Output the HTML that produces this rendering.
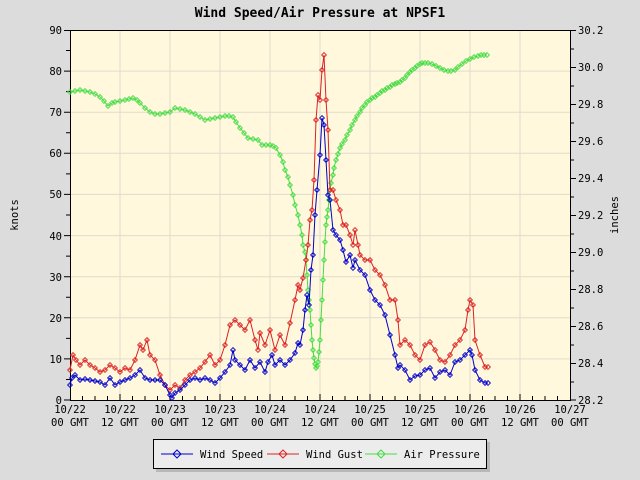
<!DOCTYPE html>
<html><head><style>body{margin:0;background:#dcdcdc}svg{display:block}text{font-family:"DejaVu Sans Mono","Liberation Mono",monospace;font-size:10.5px;fill:#000}</style></head><body>
<svg width="640" height="480" xmlns="http://www.w3.org/2000/svg">
<defs>
<marker id="mb" markerWidth="6" markerHeight="6" refX="3" refY="3" markerUnits="userSpaceOnUse"><path d="M3 0.6L5.4 3L3 5.4L0.6 3Z" fill="none" stroke="#0000cc" stroke-width="0.9"/></marker>
<marker id="mr" markerWidth="6" markerHeight="6" refX="3" refY="3" markerUnits="userSpaceOnUse"><path d="M3 0.6L5.4 3L3 5.4L0.6 3Z" fill="none" stroke="#dd2222" stroke-width="0.9"/></marker>
<marker id="mg" markerWidth="6" markerHeight="6" refX="3" refY="3" markerUnits="userSpaceOnUse"><path d="M3 0.6L5.4 3L3 5.4L0.6 3Z" fill="none" stroke="#44dd44" stroke-width="0.9"/></marker>
</defs>
<rect x="0" y="0" width="640" height="480" fill="#dcdcdc"/>
<rect x="70" y="30" width="500" height="370" fill="#fff8dc"/>
<g stroke="#e0dccc" stroke-width="1">
<line x1="120" y1="30" x2="120" y2="400"/><line x1="170" y1="30" x2="170" y2="400"/><line x1="220" y1="30" x2="220" y2="400"/><line x1="270" y1="30" x2="270" y2="400"/><line x1="320" y1="30" x2="320" y2="400"/><line x1="370" y1="30" x2="370" y2="400"/><line x1="420" y1="30" x2="420" y2="400"/><line x1="470" y1="30" x2="470" y2="400"/><line x1="520" y1="30" x2="520" y2="400"/>
<line x1="70" y1="71.1" x2="570" y2="71.1"/><line x1="70" y1="112.2" x2="570" y2="112.2"/><line x1="70" y1="153.3" x2="570" y2="153.3"/><line x1="70" y1="194.4" x2="570" y2="194.4"/><line x1="70" y1="235.6" x2="570" y2="235.6"/><line x1="70" y1="276.7" x2="570" y2="276.7"/><line x1="70" y1="317.8" x2="570" y2="317.8"/><line x1="70" y1="358.9" x2="570" y2="358.9"/>
</g>
<rect x="70.5" y="30.5" width="500" height="370" fill="none" stroke="#000"/>
<g stroke="#000">
<path d="M64 30.5h6M64 71.1h6M64 112.2h6M64 153.3h6M64 194.4h6M64 235.6h6M64 276.7h6M64 317.8h6M64 358.9h6M64 400h6"/>
<path d="M66 50.5h4M66 91.6h4M66 132.7h4M66 173.9h4M66 215h4M66 256.1h4M66 297.2h4M66 338.4h4M66 379.5h4"/>
<path d="M570 30.5h6M570 67.5h6M570 104.5h6M570 141.5h6M570 178.5h6M570 215.5h6M570 252.5h6M570 289.5h6M570 326.5h6M570 363.5h6M570 400h6"/>
<path d="M570 49h4M570 86h4M570 123h4M570 160h4M570 197h4M570 234h4M570 271h4M570 308h4M570 345h4M570 382h4"/>
</g>
<text x="320" y="17" text-anchor="middle" style="font-size:13px;font-weight:bold">Wind Speed/Air Pressure at NPSF1</text>
<g text-anchor="end">
<text x="62" y="34">90</text><text x="62" y="75">80</text><text x="62" y="116">70</text><text x="62" y="157">60</text><text x="62" y="198">50</text><text x="62" y="240">40</text><text x="62" y="281">30</text><text x="62" y="322">20</text><text x="62" y="363">10</text><text x="62" y="404">0</text>
</g>
<g>
<text x="578" y="34">30.2</text><text x="578" y="71">30.0</text><text x="578" y="108">29.8</text><text x="578" y="145">29.6</text><text x="578" y="182">29.4</text><text x="578" y="219">29.2</text><text x="578" y="256">29.0</text><text x="578" y="293">28.8</text><text x="578" y="330">28.6</text><text x="578" y="367">28.4</text><text x="578" y="404">28.2</text>
</g>
<g text-anchor="middle">
<text x="70" y="413">10/22</text><text x="70" y="426">00 GMT</text>
<text x="120" y="413">10/22</text><text x="120" y="426">12 GMT</text>
<text x="170" y="413">10/23</text><text x="170" y="426">00 GMT</text>
<text x="220" y="413">10/23</text><text x="220" y="426">12 GMT</text>
<text x="270" y="413">10/24</text><text x="270" y="426">00 GMT</text>
<text x="320" y="413">10/24</text><text x="320" y="426">12 GMT</text>
<text x="370" y="413">10/25</text><text x="370" y="426">00 GMT</text>
<text x="420" y="413">10/25</text><text x="420" y="426">12 GMT</text>
<text x="470" y="413">10/26</text><text x="470" y="426">00 GMT</text>
<text x="520" y="413">10/26</text><text x="520" y="426">12 GMT</text>
<text x="570" y="413">10/27</text><text x="570" y="426">00 GMT</text>
</g>
<text transform="translate(18,215) rotate(-90)" text-anchor="middle">knots</text>
<text transform="translate(618,215) rotate(-90)" text-anchor="middle">inches</text>
<path stroke="#000" d="M82.5 400v-4M95 400v-4M107.5 400v-4M132.5 400v-4M145 400v-4M157.5 400v-4M182.5 400v-4M195 400v-4M207.5 400v-4M232.5 400v-4M245 400v-4M257.5 400v-4M282.5 400v-4M295 400v-4M307.5 400v-4M332.5 400v-4M345 400v-4M357.5 400v-4M382.5 400v-4M395 400v-4M407.5 400v-4M432.5 400v-4M445 400v-4M457.5 400v-4M482.5 400v-4M495 400v-4M507.5 400v-4M532.5 400v-4M545 400v-4M557.5 400v-4M120 400v-6M170 400v-6M220 400v-6M270 400v-6M320 400v-6M370 400v-6M420 400v-6M470 400v-6M520 400v-6"/>
<polyline fill="none" stroke="#44dd44" marker-start="url(#mg)" marker-mid="url(#mg)" marker-end="url(#mg)" points="70,92 75,91 80,90 85,91 90,92 95,94 100,97 104,101 108,106 112,103 115,102 120,101 125,100 129,99 133,98 137,100 140,103 145,108 150,112 155,114 160,114 165,113 170,112 175,108 180,109 185,110 190,112 195,114 200,117 205,120 210,119 215,118 220,117 225,116 229,116 233,117 236,122 240,128 244,133 248,138 253,139 258,140 262,145 266,145 270,145 273,146 276,148 280,155 283,162 285,170 288,177 290,185 293,195 295,205 298,215 300,225 302,235 303,245 305,252 306,260 307,275 308,290 309,300 310,310 311,325 312,340 313,350 314,358 315,364 316,368 317,366 318,362 319,352 320,340 321,320 322,300 323,280 324,260 325,242 326,225 327,217 328,210 329,200 330,190 331,183 333,175 334,168 336,160 338,154 340,148 342,144 345,140 347,135 350,130 352,125 355,120 357,116 360,112 362,108 365,105 367,102 370,100 372,98 375,97 377,95 380,93 382,91 385,90 387,88 390,87 392,85 395,84 397,83 400,82 402,80 405,78 407,75 410,72 412,70 415,68 417,66 420,64 422,63 425,63 428,63 432,64 436,66 440,68 444,70 448,71 451,71 455,70 458,67 462,64 466,61 470,59 474,57 478,56 481,55 484,55 487,55"/>
<polyline fill="none" stroke="#dd2222" marker-start="url(#mr)" marker-mid="url(#mr)" marker-end="url(#mr)" points="70,370 73,355 76,360 80,365 85,360 90,365 95,368 100,372 105,370 110,365 115,368 120,372 125,368 130,370 135,360 140,345 143,350 147,340 150,355 155,360 160,375 165,385 170,390 175,385 180,388 185,380 190,375 195,372 200,368 205,362 210,355 215,365 220,360 225,345 230,325 235,320 240,325 245,330 250,320 255,340 258,350 260,333 265,345 270,330 275,350 280,335 285,345 290,323 295,300 298,285 300,290 303,278 306,260 308,245 310,220 312,210 314,180 316,120 318,95 320,100 322,70 324,55 326,100 328,130 330,190 333,190 336,200 340,210 343,225 346,225 350,235 353,245 355,230 358,245 360,255 365,260 370,260 375,270 380,275 385,285 390,300 395,300 398,320 400,345 405,340 410,345 415,355 420,360 425,345 430,342 435,350 440,360 445,362 450,355 455,345 460,340 465,330 468,310 470,300 473,305 475,340 480,355 485,367 488,367"/>
<polyline fill="none" stroke="#0000cc" marker-start="url(#mb)" marker-mid="url(#mb)" marker-end="url(#mb)" points="70,385 72,378 75,375 80,380 85,379 90,380 95,381 100,382 105,385 110,378 115,385 120,382 125,380 130,378 135,375 140,370 145,378 150,380 155,380 160,380 165,385 170,395 172,398 175,393 180,390 185,385 190,380 195,378 200,380 205,378 210,380 215,383 220,378 225,372 230,365 233,350 235,360 240,365 245,370 250,360 255,368 260,362 265,372 268,362 272,355 275,365 280,360 285,365 290,360 295,353 298,343 300,345 303,330 305,310 307,295 309,305 311,270 313,255 315,215 317,190 320,155 322,118 324,125 326,160 328,195 330,200 333,230 336,235 340,240 343,250 346,262 350,255 353,268 355,260 360,270 365,275 370,290 375,300 380,305 385,315 390,335 395,355 398,368 400,365 405,370 410,380 415,376 420,375 425,370 430,368 435,378 440,372 445,370 450,375 455,362 460,360 465,355 470,350 472,355 475,370 480,380 485,383 488,383"/>
<rect x="156" y="442" width="334" height="30" fill="#b8b8b8"/>
<rect x="153.5" y="439.5" width="333" height="29" fill="#ececec" stroke="#000"/>
<line x1="161" y1="454" x2="193" y2="454" stroke="#0000cc"/><path d="M177 450L181 454L177 458L173 454Z" fill="none" stroke="#0000cc"/>
<text x="200" y="458">Wind Speed</text>
<line x1="267" y1="454" x2="299" y2="454" stroke="#dd2222"/><path d="M283 450L287 454L283 458L279 454Z" fill="none" stroke="#dd2222"/>
<text x="306" y="458">Wind Gust</text>
<line x1="365" y1="454" x2="397" y2="454" stroke="#44dd44"/><path d="M381 450L385 454L381 458L377 454Z" fill="none" stroke="#44dd44"/>
<text x="404" y="458">Air Pressure</text>
</svg>
</body></html>
